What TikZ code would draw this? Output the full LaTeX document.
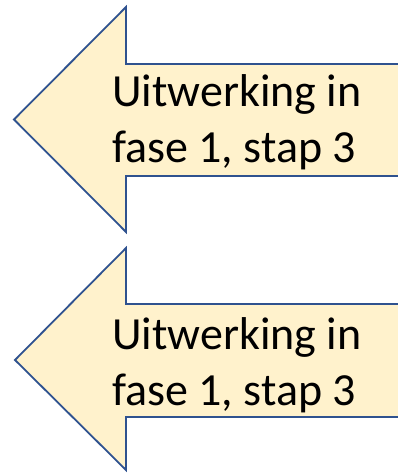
\documentclass[tikz,border=0pt]{standalone}
\usepackage{fontspec}
\setmainfont{Carlito}
\definecolor{arrowfill}{HTML}{FFF2CC}
\definecolor{arrowline}{HTML}{2F528F}
\begin{document}
\begin{tikzpicture}[x=1pt,y=-1pt,
  bigarrow/.style={draw=arrowline,fill=arrowfill,line width=1.8pt,line join=miter},
  arrowlabel/.style={font=\fontsize{46}{56}\selectfont,align=left,anchor=base west,inner sep=0pt}]
\useasboundingbox (0,0) rectangle (398,473);
% arrow 1
\coordinate (a1tip) at (14,119.5);
\draw[bigarrow] (a1tip) -- (126,7) -- (126,64) -- (412,64) -- (412,176) -- (126,176) -- (126,232) -- cycle;
\node[arrowlabel] (t1) at (112,163) {Uitwerking in\\fase 1, stap 3};
% arrow 2
\coordinate (a2tip) at (15,360);
\draw[bigarrow] (a2tip) -- (126,248) -- (126,304) -- (412,304) -- (412,417) -- (126,417) -- (126,470) -- cycle;
\node[arrowlabel] (t2) at (112,405) {Uitwerking in\\fase 1, stap 3};
\end{tikzpicture}
\end{document}
